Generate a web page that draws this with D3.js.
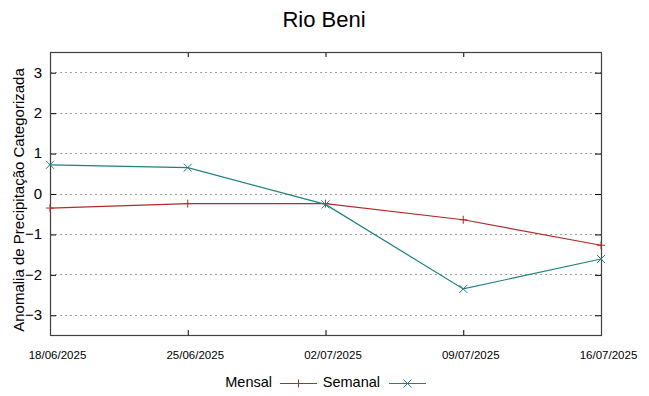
<!DOCTYPE html>
<html><head><meta charset="utf-8">
<script src="https://cdn.jsdelivr.net/npm/d3@7"></script>
<style>body{margin:0;background:#fff;}svg{display:block;font-family:"Liberation Sans",Arial,sans-serif;}</style>
</head><body>
<svg id="c" width="649" height="396"></svg>
<script>
const dates = ["18/06/2025","25/06/2025","02/07/2025","09/07/2025","16/07/2025"];
const mensal = [-0.36, -0.25, -0.25, -0.65, -1.28];
const semanal = [0.71, 0.64, -0.27, -2.36, -1.62];
const yTicks = [-3,-2,-1,0,1,2,3];
const title = "Rio Beni";
const yLabel = "Anomalia de Precipitação Categorizada";

const parse = d3.timeParse("%d/%m/%Y");
const fmt = d3.timeFormat("%d/%m/%Y");
const svg = d3.select("#c");
const L=50, R=601, T=52, B=335;
const x = d3.scaleTime().domain([parse(dates[0]), parse(dates[dates.length-1])]).range([L,R]);
const y = d3.scaleLinear().domain([-3.5,3.5]).range([B,T]);

// grid
svg.append("g").selectAll("line").data(yTicks).join("line")
  .attr("x1",L).attr("x2",R).attr("y1",d=>Math.round(y(d))+0.5).attr("y2",d=>Math.round(y(d))+0.5)
  .attr("stroke","#a0a0a0").attr("stroke-width",1).attr("stroke-dasharray","2,3");

// y axis left
const ya = svg.append("g").attr("transform",`translate(${L},0)`)
  .call(d3.axisLeft(y).tickValues(yTicks).tickSize(-6).tickPadding(8).tickFormat(d3.format("d")));
ya.select(".domain").remove();
ya.selectAll("line").attr("stroke","#000").attr("transform","translate(0,0.5)");
ya.selectAll("text").attr("font-size",15).attr("font-family","Liberation Sans, Arial, sans-serif").attr("fill","#000");
// y axis right mirror
const yr = svg.append("g").attr("transform",`translate(${R},0)`)
  .call(d3.axisRight(y).tickValues(yTicks).tickSize(-6).tickFormat(""));
yr.select(".domain").remove();
yr.selectAll("line").attr("stroke","#000").attr("transform","translate(0,0.5)");

// x axis
const xa = svg.append("g").attr("transform",`translate(0,${B})`)
  .call(d3.axisBottom(x).tickValues(dates.map(parse)).tickSize(-5).tickPadding(16).tickFormat(fmt));
xa.select(".domain").remove();
xa.selectAll("line").attr("stroke","#000");
xa.selectAll("text").attr("font-size",11.5).attr("dx",7).attr("font-family","Liberation Sans, Arial, sans-serif").attr("fill","#000");
const xt = svg.append("g").attr("transform",`translate(0,${T})`)
  .call(d3.axisTop(x).tickValues(dates.map(parse)).tickSize(-5).tickFormat(""));
xt.select(".domain").remove();
xt.selectAll("line").attr("stroke","#000");

// border
svg.append("rect").attr("x",L+0.5).attr("y",T+0.5).attr("width",R-L).attr("height",B-T)
  .attr("fill","none").attr("stroke","#404040").attr("stroke-width",1.2);

const series = [
  {name:"Mensal", vals:mensal, color:"#b22a2a", sym:"plus"},
  {name:"Semanal", vals:semanal, color:"#1f8080", sym:"cross"}
];
const line = d3.line().x((d,i)=>x(parse(dates[i]))).y(d=>y(d));
function sym(g, cx, cy, type, color){
  const s=4;
  if(type==="plus"){
    g.append("line").attr("x1",cx-s).attr("x2",cx+s).attr("y1",cy).attr("y2",cy).attr("stroke",color);
    g.append("line").attr("x1",cx).attr("x2",cx).attr("y1",cy-s).attr("y2",cy+s).attr("stroke",color);
  } else {
    g.append("line").attr("x1",cx-s).attr("x2",cx+s).attr("y1",cy-s).attr("y2",cy+s).attr("stroke",color);
    g.append("line").attr("x1",cx-s).attr("x2",cx+s).attr("y1",cy+s).attr("y2",cy-s).attr("stroke",color);
  }
}
series.forEach(s=>{
  svg.append("path").datum(s.vals).attr("d",line).attr("fill","none").attr("stroke",s.color).attr("stroke-width",1.2);
  const g=svg.append("g");
  s.vals.forEach((v,i)=>sym(g,x(parse(dates[i])),y(v),s.sym,s.color));
});

// title
svg.append("text").attr("x",324).attr("y",27).attr("text-anchor","middle").attr("font-size",22).text(title);
// y label
svg.append("text").attr("transform","translate(24,200) rotate(-90)").attr("text-anchor","middle").attr("font-size",15).text(yLabel);

// legend
const lg = svg.append("g");
const leg = [{t:"Mensal",tx:272,x1:280,x2:317},{t:"Semanal",tx:380,x1:389,x2:426}];
leg.forEach((l,i)=>{
  const s=series[i];
  lg.append("text").attr("x",l.tx).attr("y",387).attr("text-anchor","end").attr("font-size",14.5).text(l.t);
  lg.append("line").attr("x1",l.x1).attr("x2",l.x2).attr("y1",383.5).attr("y2",383.5).attr("stroke",s.color).attr("stroke-width",1.2);
  sym(lg,(l.x1+l.x2)/2,383.5,s.sym,s.color);
});
</script>
</body></html>
